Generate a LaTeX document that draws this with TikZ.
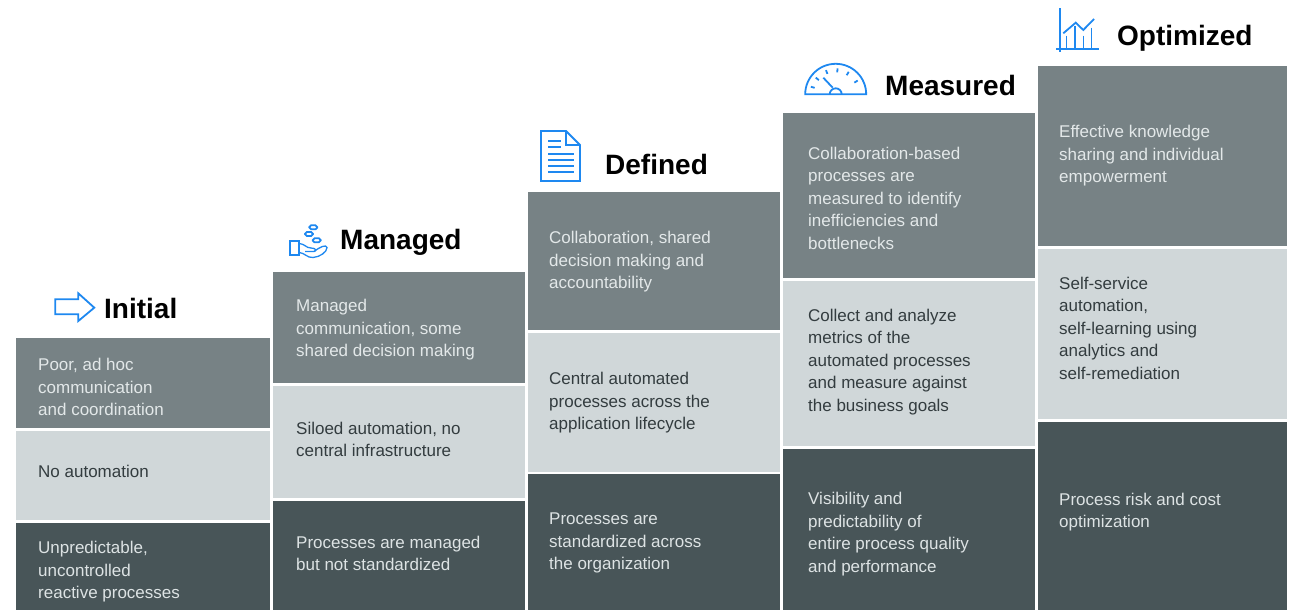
\documentclass[tikz,border=0pt]{standalone}
\usepackage{fontspec}
\usetikzlibrary{calc}
\setmainfont{Liberation Sans}
\definecolor{toprow}{HTML}{778285}
\definecolor{midrow}{HTML}{D0D7D9}
\definecolor{lowrow}{HTML}{485558}
\definecolor{toptext}{HTML}{E3E8E9}
\definecolor{midtext}{HTML}{333C3F}
\definecolor{lowtext}{HTML}{DDE3E4}
\definecolor{iconblue}{HTML}{1E88F0}
\tikzset{
  box/.style={anchor=north west,inner sep=0pt,outer sep=0pt,draw=none},
  txt/.style={anchor=west,inner sep=0pt,align=left,font=\fontsize{17}{22.5}\selectfont},
  title/.style={anchor=west,inner sep=0pt,font=\fontsize{28}{30}\selectfont\bfseries,text=black},
  icon/.style={iconblue,line width=1.8pt}
}
\begin{document}
\begin{tikzpicture}[x=1pt,y=-1pt]
  \useasboundingbox (0,0) rectangle (1291,610);
  % first column
  \node[box,fill=toprow,minimum width=254pt,minimum height=90pt] (ca) at (16,338) {};
  \node[box,fill=midrow,minimum width=254pt,minimum height=89pt] (cb) at (16,431) {};
  \node[box,fill=lowrow,minimum width=254pt,minimum height=87pt] (cc) at (16,523) {};
  \node[txt,text=toptext] (ta) at (38,387) {Poor, ad hoc\\communication\\and coordination};
  \node[txt,text=midtext] (tb) at (38,471) {No automation};
  \node[txt,text=lowtext] (tc) at (38,572) {Unpredictable,\\uncontrolled\\reactive processes};
  \node[title] (initial) at (104,308) {Initial};
  \draw[icon] (55.3,299.3) -- (78.3,299.3) -- (78.3,293.3) -- (94.3,307.7) -- (78.3,321) -- (78.3,314.3) -- (55.3,314.3) -- cycle;
  % second column
  \node[box,fill=toprow,minimum width=252pt,minimum height=111pt] (da) at (273,272) {};
  \node[box,fill=midrow,minimum width=252pt,minimum height=112pt] (db) at (273,386) {};
  \node[box,fill=lowrow,minimum width=252pt,minimum height=109pt] (dc) at (273,501) {};
  \node[txt,text=toptext] (ua) at (296,330) {Managed\\communication, some\\shared decision making};
  \node[txt,text=midtext] (ub) at (296,439.5) {Siloed automation, no\\central infrastructure};
  \node[txt,text=lowtext] (uc) at (296,553.5) {Processes are managed\\but not standardized};
  \node[title] (managed) at (340,242) {Managed};
  \draw[icon] (290,241) rectangle (299.3,255);
  \draw[icon,rounded corners=1.8pt] (309.3,225.3) rectangle (317.3,229.3);
  \draw[icon,rounded corners=1.8pt] (305,232) rectangle (313,236);
  \draw[icon,rounded corners=1.8pt] (312.7,238.3) rectangle (320.7,242.3);
  \draw[icon,line width=1.3pt] (299.3,243.5) .. controls (305,244) and (306,248) .. (311,248) .. controls (316,248) and (317,251) .. (314,251.5) -- (305,251.5);
  \draw[icon,line width=1.3pt] (299.3,252.5) .. controls (305,253) and (307,258) .. (313,257.5) .. controls (320,257) and (327,252) .. (327,247.5) .. controls (326,244) and (320,247) .. (314,251.5);
  % third column
  \node[box,fill=toprow,minimum width=252pt,minimum height=138pt] (ea) at (528,192) {};
  \node[box,fill=midrow,minimum width=252pt,minimum height=139pt] (eb) at (528,333) {};
  \node[box,fill=lowrow,minimum width=252pt,minimum height=136pt] (ec) at (528,474) {};
  \node[txt,text=toptext] (va) at (549,262) {Collaboration, shared\\decision making and\\accountability};
  \node[txt,text=midtext] (vb) at (549,403) {Central automated\\processes across the\\application lifecycle};
  \node[txt,text=lowtext] (vc) at (549,543) {Processes are\\standardized across\\the organization};
  \node[title] (defined) at (605,164) {Defined};
  \draw[icon] (541,131) -- (566,131) -- (580,145) -- (580,181) -- (541,181) -- cycle;
  \draw[icon,line width=1.2pt] (566,131) -- (566,145) -- (580,145);
  \draw[icon] (548.3,140.7) -- (560.7,140.7);
  \draw[icon] (548.3,147.3) -- (560.7,147.3);
  \foreach \ypos in {154,160,166,172}
    \draw[icon] (548.3,\ypos) -- (574,\ypos);
  % fourth column
  \node[box,fill=toprow,minimum width=252pt,minimum height=165pt] (fa) at (783,113) {};
  \node[box,fill=midrow,minimum width=252pt,minimum height=165pt] (fb) at (783,281) {};
  \node[box,fill=lowrow,minimum width=252pt,minimum height=161pt] (fc) at (783,449) {};
  \node[txt,text=toptext] (wa) at (808,198) {Collaboration-based\\processes are\\measured to identify\\inefficiencies and\\bottlenecks};
  \node[txt,text=midtext] (wb) at (808,362) {Collect and analyze\\metrics of the\\automated processes\\and measure against\\the business goals};
  \node[txt,text=lowtext] (wc) at (808,534) {Visibility and\\predictability of\\entire process quality\\and performance};
  \node[title] (measured) at (885,85) {Measured};
  \draw[icon] (805.2,94.3) arc[start angle=180,end angle=0,radius=30.5pt] -- cycle;
  \draw[icon] (841.7,94.3) arc[start angle=0,end angle=180,radius=6pt];
  \draw[icon] (832.7,87.7) -- (823.3,77.7);
  \foreach \ang in {163,140,112,86,60,32}
    \draw[icon] ($(835.7,94.3)+(\ang:22pt)$) -- ($(835.7,94.3)+(\ang:26pt)$);
  % fifth column
  \node[box,fill=toprow,minimum width=249pt,minimum height=180pt] (ga) at (1038,66) {};
  \node[box,fill=midrow,minimum width=249pt,minimum height=170pt] (gb) at (1038,249) {};
  \node[box,fill=lowrow,minimum width=249pt,minimum height=188pt] (gc) at (1038,422) {};
  \node[txt,text=toptext] (xa) at (1059,156) {Effective knowledge\\sharing and individual\\empowerment};
  \node[txt,text=midtext] (xb) at (1059,328) {Self-service\\automation,\\self-learning using\\analytics and\\self-remediation};
  \node[txt,text=lowtext] (xc) at (1059,512) {Process risk and cost\\optimization};
  \node[title] (optimized) at (1117,38) {Optimized};
  \draw[icon] (1060,8.3) -- (1060,51.7);
  \draw[icon] (1056,49) -- (1098.7,49);
  \draw[icon] (1063.3,33.3) -- (1075.7,22.7) -- (1083.3,30) -- (1094,19);
  \draw[icon,line width=1.3pt] (1066.7,35.7) -- (1066.7,49);
  \draw[icon,line width=1.3pt] (1075,26) -- (1075,49);
  \draw[icon,line width=1.3pt] (1083.3,35.7) -- (1083.3,49);
  \draw[icon,line width=1.3pt] (1091.7,27.7) -- (1091.7,49);
\end{tikzpicture}
\end{document}
